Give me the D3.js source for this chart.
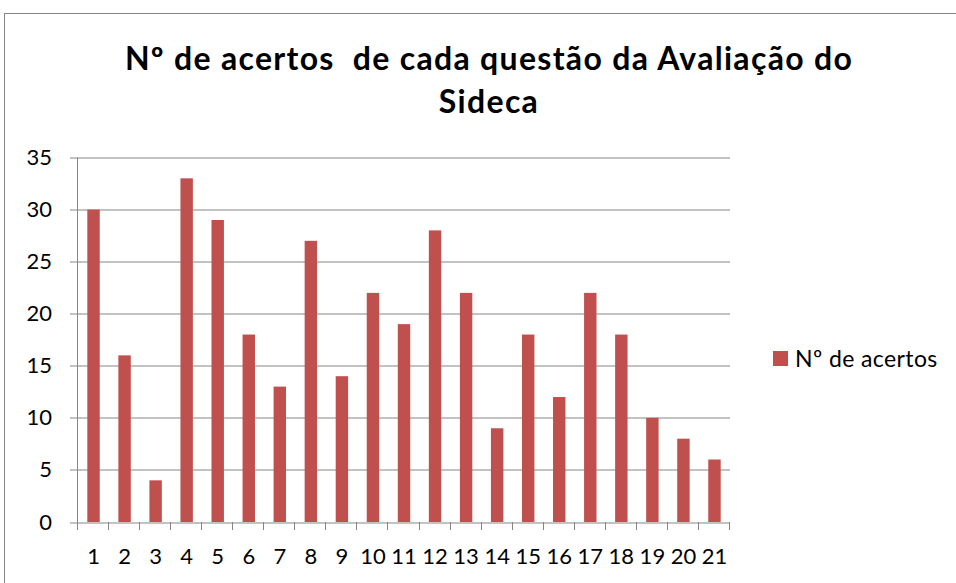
<!DOCTYPE html>
<html>
<head>
<meta charset="utf-8">
<script src="https://cdn.jsdelivr.net/npm/d3@7"></script>
<style>
  body { margin: 0; background: #fff; }
  text { font-family: Lato, "Open Sans", sans-serif; fill: #000; }
</style>
</head>
<body>
<div class="canvas"></div>
<script>
const w = 956;
const h = 583;

// data
const questions = ["1","2","3","4","5","6","7","8","9","10","11","12","13","14","15","16","17","18","19","20","21"];
const acertos = [30, 16, 4, 33, 29, 18, 13, 27, 14, 22, 19, 28, 22, 9, 18, 12, 22, 18, 10, 8, 6];
const yTicks = [0, 5, 10, 15, 20, 25, 30, 35];
const seriesName = "Nº de acertos";
const titleLines = ["Nº de acertos  de cada questão da Avaliação do", "Sideca"];

const svg = d3.select(".canvas").append("svg").attr("width", w).attr("height", h);

// chart border
svg.append("rect")
  .attr("x", 4.5).attr("y", 13.5)
  .attr("width", w + 20).attr("height", h + 20)
  .attr("fill", "#fff")
  .attr("stroke", "#868686");

// plot area
const margin = { top: 157.5, left: 78, right: 226, bottom: 61 };
const graphWidth = w - margin.left - margin.right;
const graphHeight = h - margin.top - margin.bottom;

const graph = svg.append("g")
  .attr("transform", `translate(${margin.left}, ${margin.top})`);

const xScale = d3.scaleBand().domain(questions).range([0, graphWidth]).paddingInner(0.6).paddingOuter(0.3);
const xEdge = d3.scaleLinear().domain([0, questions.length]).range([0, graphWidth]);
const yScale = d3.scaleLinear().domain([0, 35]).range([graphHeight, 0]);

// gridlines
graph.append("g")
  .selectAll("line")
  .data(yTicks)
  .enter()
  .append("line")
  .attr("x1", -8)
  .attr("x2", graphWidth)
  .attr("y1", d => Math.round(yScale(d)) + 0.5)
  .attr("y2", d => Math.round(yScale(d)) + 0.5)
  .attr("stroke", "#868686")
  .attr("stroke-width", 1);

// bars
graph.selectAll("rect.bar")
  .data(acertos)
  .enter()
  .append("rect")
  .attr("class", "bar")
  .attr("x", (d, i) => xScale(questions[i]))
  .attr("y", d => yScale(d))
  .attr("width", xScale.bandwidth())
  .attr("height", d => graphHeight - yScale(d))
  .attr("fill", "#C0504D");

// y axis
const yAxis = d3.axisLeft(yScale).tickValues(yTicks).tickSize(0).tickPadding(26);
graph.append("g")
  .attr("id", "y-axis")
  .call(yAxis)
  .call(g => g.select(".domain").remove())
  .call(g => g.selectAll("text").style("font-size", "22px").style("font-family", "Lato, sans-serif").attr("fill", "#000"));

graph.append("line")
  .attr("x1", -0.5).attr("x2", -0.5)
  .attr("y1", 0).attr("y2", graphHeight)
  .attr("stroke", "#868686");

// x axis
const xAxis = d3.axisBottom(xScale).tickSize(0).tickPadding(26);
const xg = graph.append("g")
  .attr("id", "x-axis")
  .attr("transform", `translate(0, ${graphHeight})`)
  .call(xAxis)
  .call(g => g.select(".domain").remove())
  .call(g => g.selectAll("text").style("font-size", "22px").style("font-family", "Lato, sans-serif").attr("fill", "#000"));

xg.selectAll("line.edge")
  .data(d3.range(questions.length + 1))
  .enter()
  .append("line")
  .attr("class", "edge")
  .attr("x1", d => Math.round(xEdge(d)) - 0.5)
  .attr("x2", d => Math.round(xEdge(d)) - 0.5)
  .attr("y1", 0).attr("y2", 8)
  .attr("stroke", "#868686");

// title
svg.append("g")
  .selectAll("text")
  .data(titleLines)
  .enter()
  .append("text")
  .attr("x", 489)
  .attr("y", (d, i) => 70 + i * 43)
  .attr("text-anchor", "middle")
  .style("font-size", "32px")
  .style("font-weight", "bold")
  .style("letter-spacing", "1.3px")
  .style("white-space", "pre")
  .text(d => d);

// legend
const legend = svg.append("g").attr("transform", "translate(773, 351)");
legend.append("rect").attr("width", 15).attr("height", 15).attr("fill", "#C0504D");
legend.append("text").attr("x", 22).attr("y", 16).style("font-size", "23px").style("letter-spacing", "0.4px").text(seriesName);
</script>
</body>
</html>
